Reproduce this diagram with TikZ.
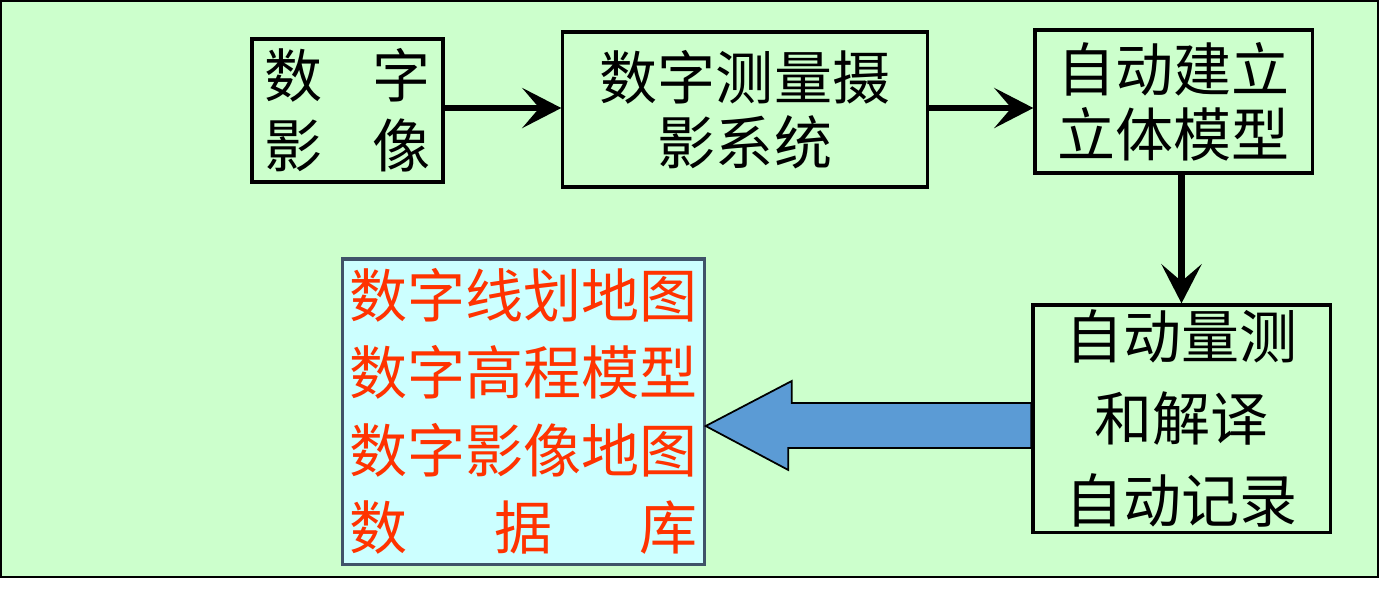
\documentclass[tikz,border=0pt]{standalone}
\usepackage{fontspec}
\setmainfont{Noto Sans CJK SC}
\usepackage{xcolor}
\usetikzlibrary{arrows.meta,calc}
\definecolor{bggreen}{HTML}{CCFFCC}
\definecolor{dbcyan}{HTML}{CCFFFF}
\definecolor{dbred}{HTML}{FF3300}
\definecolor{dbframe}{HTML}{3F5369}
\definecolor{flowblue}{HTML}{5B9BD5}
\tikzset{
	x=0.01cm, y=-0.01cm,
	flow/.style={-{Stealth[length=0.39cm,width=0.40cm,inset=0.17cm]}, line width=1.8pt}, % black arrows
	box/.style={draw, line width=0.9pt, inner sep=0pt, align=center,
		font=\fontsize{16.5}{18.6}\selectfont},
	dbbox/.style={draw=dbframe, line width=0.9pt, fill=dbcyan, text=dbred, inner sep=0pt,
		align=center, font=\fontsize{16.5}{22}\selectfont},
	bigarrow/.style={draw, line width=0.5pt, fill=flowblue},
}

\begin{document}
\begin{tikzpicture}
	% page and green panel
	\useasboundingbox (0,0) rectangle (1379,596);
	\fill[white] (0,0) rectangle (1379,596);
	\draw[fill=bggreen, line width=0.6pt] (1,1) rectangle (1378,577);

	\node[box, minimum width=1.91cm, minimum height=1.43cm, font=\fontsize{16.5}{19.9}\selectfont]
		(img) at (347.5,110.5) {数\hspace{0.5cm}字\\影\hspace{0.5cm}像};
	\node[box, minimum width=3.64cm, minimum height=1.55cm] (sys) at (745,109.5) {数字测量摄\\影系统};
	\node[box, minimum width=2.77cm, minimum height=1.43cm] (model) at (1173.5,101.5) {自动建立\\立体模型};
	\node[box, minimum width=2.97cm, minimum height=2.27cm, font=\fontsize{16.5}{23.3}\selectfont]
		(meas) at (1181.5,418.5) {自动量测\\和解译\\自动记录};
	\node[dbbox, minimum width=3.61cm, minimum height=3.05cm] (db) at (523.5,411.5)
		{数字线划地图\\数字高程模型\\数字影像地图\\\makebox[6em]{数\hfill 据\hfill 库}};

	\draw[flow] (img.east |- 0,108) -- (sys.west |- 0,108);
	\draw[flow] (sys.east |- 0,108) -- (model.west |- 0,108);
	\draw[flow] (meas.north |- model.south) -- (meas.north);

	% wide arrow back to the database box
	\draw[bigarrow] (db.east |- 0,426) -- ++(86,-45) -- ++(0,22) -- (meas.west |- 0,403)
		-- (meas.west |- 0,448) -- ++(-243,0) -- ++(0,22) -- cycle;
\end{tikzpicture}
\end{document}
